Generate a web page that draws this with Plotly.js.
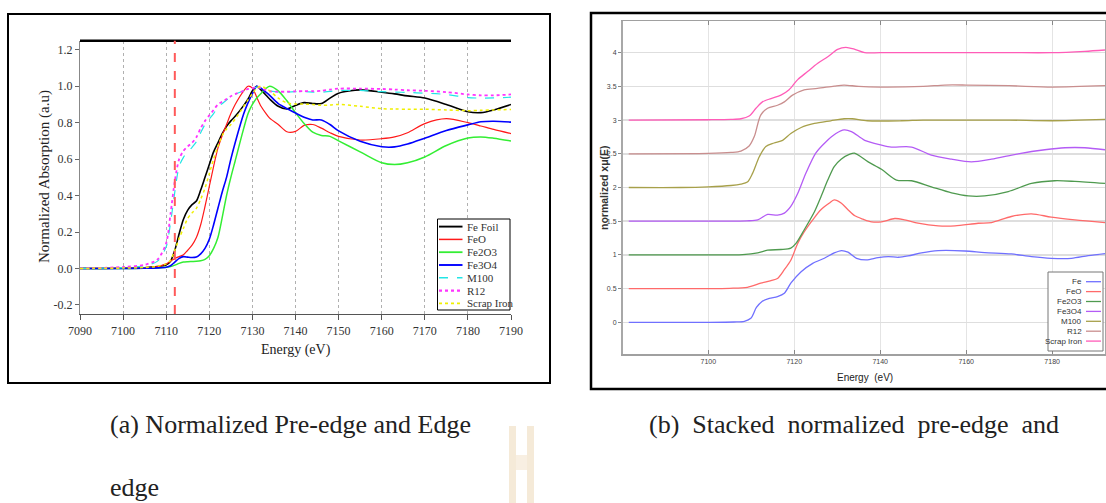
<!DOCTYPE html>
<html><head><meta charset="utf-8">
<script src="https://cdn.plot.ly/plotly-3.0.1.min.js"></script>
<style>html,body{margin:0;padding:0;background:#fff}#chart{width:1106px;height:503px}</style>
</head><body><div id="chart"></div>
<script>
// ---------- Panel (a): normalized pre-edge and edge ----------
const energyA = [7090,7100,7105,7108,7110,7111,7112,7113,7114,7115,7116,7117,7118,7119,7120,7121,7122,7123,7124,7125,7126,7128,7129,7130,7131,7132,7133,7134,7136,7138,7140,7142,7144,7146,7148,7150,7155,7160,7163,7166,7170,7175,7180,7183,7186,7190];
const feFoilA = [0,0.001,0.004,0.01,0.02,0.04,0.10,0.19,0.27,0.32,0.35,0.37,0.43,0.50,0.57,0.64,0.69,0.74,0.78,0.81,0.835,0.895,0.93,0.975,1.0,0.98,0.955,0.93,0.89,0.875,0.895,0.91,0.905,0.905,0.935,0.962,0.98,0.967,0.958,0.947,0.935,0.90,0.86,0.855,0.87,0.90];
const feOA = [0,0.001,0.004,0.01,0.025,0.04,0.055,0.065,0.075,0.10,0.128,0.17,0.24,0.34,0.45,0.56,0.66,0.73,0.79,0.85,0.90,0.975,1.0,0.99,0.94,0.89,0.855,0.825,0.79,0.75,0.752,0.785,0.79,0.77,0.745,0.725,0.705,0.712,0.722,0.745,0.795,0.822,0.80,0.782,0.763,0.74];
const fe2o3A = [0,0,0.001,0.003,0.006,0.01,0.018,0.028,0.035,0.037,0.038,0.039,0.042,0.05,0.07,0.11,0.17,0.28,0.40,0.50,0.59,0.77,0.85,0.90,0.935,0.96,0.985,1.0,0.975,0.92,0.855,0.795,0.748,0.73,0.725,0.70,0.64,0.58,0.57,0.58,0.612,0.675,0.716,0.722,0.715,0.70];
const fe3o4A = [0,0,0.001,0.003,0.007,0.015,0.035,0.055,0.065,0.062,0.06,0.063,0.08,0.11,0.16,0.24,0.33,0.42,0.50,0.60,0.69,0.85,0.91,0.96,1.0,0.99,0.97,0.95,0.905,0.878,0.853,0.83,0.815,0.815,0.79,0.755,0.698,0.668,0.667,0.683,0.715,0.757,0.788,0.805,0.808,0.803];
const m100A = [0,0.005,0.015,0.04,0.12,0.25,0.42,0.56,0.61,0.64,0.665,0.695,0.745,0.79,0.82,0.85,0.885,0.905,0.925,0.94,0.955,0.975,0.985,0.99,0.995,0.99,0.98,0.975,0.968,0.968,0.97,0.97,0.968,0.967,0.972,0.977,0.977,0.97,0.968,0.966,0.962,0.955,0.938,0.935,0.936,0.94];
const r12A = [0,0.008,0.02,0.05,0.14,0.30,0.48,0.60,0.645,0.67,0.69,0.72,0.77,0.81,0.84,0.87,0.90,0.915,0.93,0.945,0.957,0.975,0.985,0.99,0.995,0.99,0.98,0.972,0.97,0.97,0.972,0.973,0.973,0.975,0.982,0.987,0.987,0.985,0.982,0.978,0.975,0.968,0.955,0.95,0.95,0.955];
const scrapA = [0,0.002,0.005,0.012,0.025,0.045,0.10,0.165,0.22,0.275,0.305,0.33,0.38,0.44,0.52,0.60,0.67,0.73,0.765,0.79,0.82,0.89,0.925,0.96,0.99,1.0,0.99,0.975,0.935,0.908,0.903,0.902,0.90,0.895,0.897,0.90,0.89,0.877,0.875,0.874,0.874,0.87,0.866,0.868,0.87,0.873];
const edgeMarkerA = 7112;
const namesA = ['Fe Foil','FeO','Fe2O3','Fe3O4','M100','R12','Scrap Iron'];
const xTicksA = [7090,7100,7110,7120,7130,7140,7150,7160,7170,7180,7190];
const yTicksA = [-0.2,0,0.2,0.4,0.6,0.8,1.0,1.2];

// ---------- Panel (b): stacked normalized spectra ----------
const feE = [7081.5,7100,7106,7108.4,7109.9,7111.2,7112.5,7114.2,7116.1,7117.7,7119.2,7121.6,7124.3,7127,7129.3,7131,7132.5,7134.5,7136.8,7139.5,7141.9,7144.2,7146.5,7149.6,7153.5,7159.7,7164.3,7170.5,7175.2,7179.8,7184.5,7188.4,7192.3];
const feB = [0,0,0.005,0.015,0.06,0.22,0.31,0.355,0.38,0.43,0.58,0.75,0.875,0.95,1.03,1.065,1.04,0.95,0.925,0.96,0.975,0.965,0.985,1.03,1.063,1.058,1.034,1.014,0.974,0.95,0.95,0.99,1.02];
const feoE = [7081.5,7100,7105,7109.1,7112.2,7114.6,7116.1,7117.7,7119.2,7120.8,7122.3,7124.3,7126.2,7128.1,7129.3,7130.9,7132.5,7134.1,7136,7138,7140.3,7143.4,7145.7,7148.8,7153.5,7157.4,7162.8,7165.9,7170.5,7175.2,7179.8,7185.3,7192.3];
const feoB = [0.5,0.5,0.505,0.52,0.58,0.62,0.65,0.78,0.92,1.17,1.34,1.52,1.67,1.765,1.815,1.77,1.67,1.58,1.53,1.49,1.49,1.54,1.52,1.47,1.43,1.43,1.47,1.48,1.57,1.61,1.56,1.52,1.48];
const fe2o3E = [7081.5,7100,7108,7111.5,7113.8,7116.9,7119.2,7120.4,7122.3,7124.7,7126.2,7127.8,7129.3,7130.9,7132.8,7134,7137.2,7140.3,7143.8,7147.3,7151.9,7156.6,7160.5,7164.3,7169.8,7175.2,7180.6,7185.3,7192.3];
const fe2o3B = [1,1,1.005,1.03,1.07,1.08,1.1,1.17,1.37,1.64,1.86,2.11,2.31,2.42,2.49,2.51,2.38,2.27,2.11,2.1,2.01,1.92,1.875,1.875,1.94,2.06,2.1,2.09,2.06];
const fe3o4E = [7081.5,7100,7109,7111.5,7113.8,7116.1,7117.7,7119.2,7120.8,7122.7,7125,7127.4,7129.7,7131.6,7133.3,7136.4,7140.3,7142.6,7147.3,7151.9,7156.6,7161.2,7165.9,7172.1,7178.3,7183,7187.6,7192.3];
const fe3o4B = [1.5,1.5,1.505,1.52,1.6,1.59,1.62,1.72,1.91,2.21,2.51,2.68,2.8,2.855,2.83,2.7,2.63,2.6,2.6,2.48,2.42,2.38,2.42,2.5,2.56,2.59,2.59,2.56];
const m100E = [7081.5,7093.6,7100,7105.3,7107.6,7109.1,7110.3,7111.9,7113.4,7115.3,7117.3,7119.2,7121.6,7124.7,7128.5,7131.6,7133.5,7137,7145,7150,7160,7170,7180,7192.3];
const m100B = [2,2,2.01,2.03,2.05,2.08,2.21,2.46,2.61,2.66,2.7,2.8,2.89,2.95,2.99,3.02,3.02,2.99,2.99,3.0,3.0,3.0,2.99,3.01];
const r12E = [7081.5,7100,7105.3,7107.6,7109.5,7110.7,7112.2,7113.8,7116.1,7117.7,7119.6,7122.3,7125.4,7129.3,7131.6,7135,7140,7150,7155,7160,7170,7180,7192.3];
const r12B = [2.5,2.505,2.52,2.54,2.615,2.755,3.075,3.175,3.22,3.27,3.37,3.45,3.47,3.505,3.52,3.5,3.49,3.5,3.52,3.52,3.51,3.49,3.51];
const scrapE = [7081.5,7100,7105.3,7107.6,7109.5,7111.1,7112.6,7114.6,7116.9,7118.8,7120.8,7123.1,7125.4,7127.8,7130.1,7132,7134.1,7136.4,7140,7150,7160,7170,7180,7187.6,7192.3];
const scrapB = [3,3.005,3.01,3.02,3.06,3.175,3.27,3.32,3.37,3.45,3.6,3.72,3.84,3.94,4.05,4.08,4.05,4.0,4.0,4.0,4.0,4.0,4.0,4.02,4.04];
const namesB = ['Fe','FeO','Fe2O3','Fe3O4','M100','R12','Scrap Iron'];
const xTicksB = [7100,7120,7140,7160,7180];
const yTicksB = [0,0.5,1,1.5,2,2.5,3,3.5,4];

// ---------- styles ----------
const W = 1106, H = 503;
const px = x => x / W, py = y => 1 - y / H;
const serif = 'Liberation Serif, Times New Roman, serif';
const sans = 'Liberation Sans, Arial, sans-serif';
const stylesA = [
  {color:'#000000', width:1.6, dash:'solid'},
  {color:'#ff1a1a', width:1.2, dash:'solid'},
  {color:'#33ee33', width:1.5, dash:'solid'},
  {color:'#0000ff', width:1.6, dash:'solid'},
  {color:'#22e5e5', width:1.2, dash:'dash'},
  {color:'#ff33ff', width:1.8, dash:'dot'},
  {color:'#f0f000', width:1.5, dash:'dot'}
];
const stylesB = [
  {color:'#7070ff', width:1.3},
  {color:'#ff6a6a', width:1.3},
  {color:'#4f9a4f', width:1.3},
  {color:'#b45cf5', width:1.3},
  {color:'#a7a04a', width:1.3},
  {color:'#c98e8e', width:1.3},
  {color:'#ff5cb8', width:1.3}
];
const seriesA = [feFoilA, feOA, fe2o3A, fe3o4A, m100A, r12A, scrapA];
const seriesB = [[feE,feB],[feoE,feoB],[fe2o3E,fe2o3B],[fe3o4E,fe3o4B],[m100E,m100B],[r12E,r12B],[scrapE,scrapB]];

const traces = [];
seriesA.forEach((ys,i) => traces.push({
  x: energyA, y: ys, type:'scatter', mode:'lines', name: namesA[i], xaxis:'x', yaxis:'y',
  line:{color:stylesA[i].color, width:stylesA[i].width, dash:stylesA[i].dash, shape:'spline', smoothing:0.8},
  showlegend:false, hoverinfo:'skip'
}));
seriesB.forEach((s,i) => traces.push({
  x: s[0], y: s[1], type:'scatter', mode:'lines', name: namesB[i], xaxis:'x2', yaxis:'y2',
  line:{color:stylesB[i].color, width:stylesB[i].width, shape:'spline', smoothing:0.8},
  showlegend:false, hoverinfo:'skip'
}));

const shapes = [];
const annotations = [];
const note = (x, y, text, font, extra) => annotations.push(Object.assign({
  xref:'paper', yref:'paper', x:px(x), y:py(y), text:text, showarrow:false,
  xanchor:'center', yanchor:'middle', font:font}, extra || {}));

// outer frames
shapes.push({type:'rect', xref:'paper', yref:'paper', x0:px(8), x1:px(550), y0:py(383), y1:py(14), line:{color:'#000', width:2}, layer:'below'});
shapes.push({type:'rect', xref:'paper', yref:'paper', x0:px(591), x1:px(1112), y0:py(389), y1:py(13), line:{color:'#000', width:2.5}, layer:'below'});
// top thick border of panel a
shapes.push({type:'line', xref:'x domain', yref:'y domain', x0:0, x1:1, y0:1, y1:1, line:{color:'#000', width:2.5}});
// edge marker
shapes.push({type:'line', xref:'x', yref:'y domain', x0:edgeMarkerA, x1:edgeMarkerA, y0:0, y1:1, line:{color:'#ff5a5a', width:2, dash:'dash'}});

// legend a
shapes.push({type:'rect', xref:'paper', yref:'paper', x0:px(437.5), x1:px(510), y0:py(310), y1:py(219), line:{color:'#000', width:1}, fillcolor:'#fff'});
namesA.forEach((n,i) => {
  const yy = 226.6 + i*12.8;
  shapes.push({type:'line', xref:'paper', yref:'paper', x0:px(439), x1:px(462.5), y0:py(yy), y1:py(yy), line:{color:stylesA[i].color, width:stylesA[i].width+0.3, dash:stylesA[i].dash}});
  note(464.5, yy, n, {family:serif, size:11, color:'#333'}, {xanchor:'left'});
});

// legend b
shapes.push({type:'rect', xref:'paper', yref:'paper', x0:px(1048), x1:px(1103), y0:py(351), y1:py(272), line:{color:'#777', width:1}, fillcolor:'#fff'});
namesB.forEach((n,i) => {
  const yy = 281.7 + i*9.9;
  shapes.push({type:'line', xref:'paper', yref:'paper', x0:px(1086), x1:px(1101), y0:py(yy), y1:py(yy), line:{color:stylesB[i].color, width:1.3}});
  note(1083.5, yy, n, {family:sans, size:8, color:'#333'}, {xanchor:'right'});
});

// watermark
shapes.push({type:'rect', xref:'paper', yref:'paper', x0:px(509), x1:px(516), y0:py(503), y1:py(426), line:{width:0}, fillcolor:'#f5ead8', layer:'below'});
shapes.push({type:'rect', xref:'paper', yref:'paper', x0:px(527), x1:px(534), y0:py(503), y1:py(426), line:{width:0}, fillcolor:'#f5ead8', layer:'below'});
shapes.push({type:'rect', xref:'paper', yref:'paper', x0:px(516), x1:px(527), y0:py(470), y1:py(455), line:{width:0}, fillcolor:'#f8efe2', layer:'below'});

// axis titles
note(45, 177, 'Normalized Absorption (a.u)', {family:serif, size:15, color:'#222'}, {textangle:-90});
note(295.5, 350, 'Energy (eV)', {family:serif, size:14, color:'#222'});
note(604, 188, 'normalized xμ(E)', {family:sans, size:10.5, color:'#333', weight:'bold'}, {textangle:-90});
note(865, 377, 'Energy&nbsp;&nbsp;(eV)', {family:sans, size:10, color:'#222'});

// captions
const gapA = ' ', gapB = '&nbsp; ';
note(290.5, 424, ['(a)','Normalized','Pre-edge','and','Edge'].join(gapA), {family:serif, size:26, color:'#222'});
note(108, 487, 'edge', {family:serif, size:26, color:'#222'}, {xanchor:'left'});
note(853.5, 424, ['(b)','Stacked','normalized','pre-edge','and'].join(gapB), {family:serif, size:26, color:'#222'});

const layout = {
  width: W, height: H, margin:{l:0,r:0,t:0,b:0}, paper_bgcolor:'#fff', plot_bgcolor:'rgba(0,0,0,0)',
  showlegend:false,
  xaxis:{domain:[px(80), px(511)], range:[7090,7190], tickvals:xTicksA, ticktext:xTicksA.map(String),
    showgrid:true, gridcolor:'#b0b0b0', griddash:'dot', gridwidth:1, zeroline:false,
    showline:true, linecolor:'#555', linewidth:1.2, ticks:'outside', ticklen:5, tickcolor:'#555',
    tickfont:{family:serif, size:12, color:'#333'}, anchor:'y', fixedrange:true},
  yaxis:{domain:[py(314), py(40.7)], range:[-0.25,1.25], tickvals:yTicksA, ticktext:yTicksA.map(v=>v.toFixed(1)),
    showgrid:false, zeroline:false, showline:true, linecolor:'#888', linewidth:1.2, ticks:'outside', ticklen:4, tickcolor:'#666',
    tickfont:{family:serif, size:12, color:'#333'}, anchor:'x', fixedrange:true},
  xaxis2:{domain:[px(623), px(1105)], range:[7080.16,7192.3], tickvals:xTicksB, ticktext:xTicksB.map(String),
    showgrid:true, gridcolor:'#e4e4e4', gridwidth:1.2, zeroline:false,
    showline:true, linecolor:'#a0a0a0', linewidth:1.5, mirror:'ticks', ticks:'inside', ticklen:4, tickcolor:'#888',
    tickfont:{family:sans, size:7, color:'#444'}, anchor:'y2', fixedrange:true},
  yaxis2:{domain:[py(354), py(21)], range:[-0.47,4.47], tickvals:yTicksB, ticktext:yTicksB.map(String),
    showgrid:true, gridcolor:'#dedede', gridwidth:1.6, zeroline:false,
    showline:true, linecolor:'#a8a8a8', linewidth:2, mirror:true, ticks:'outside', ticklen:3, tickcolor:'#888',
    tickfont:{family:sans, size:7, color:'#444'}, anchor:'x2', fixedrange:true},
  shapes: shapes, annotations: annotations
};
Plotly.newPlot('chart', traces, layout, {displayModeBar:false, staticPlot:true});
</script></body></html>
